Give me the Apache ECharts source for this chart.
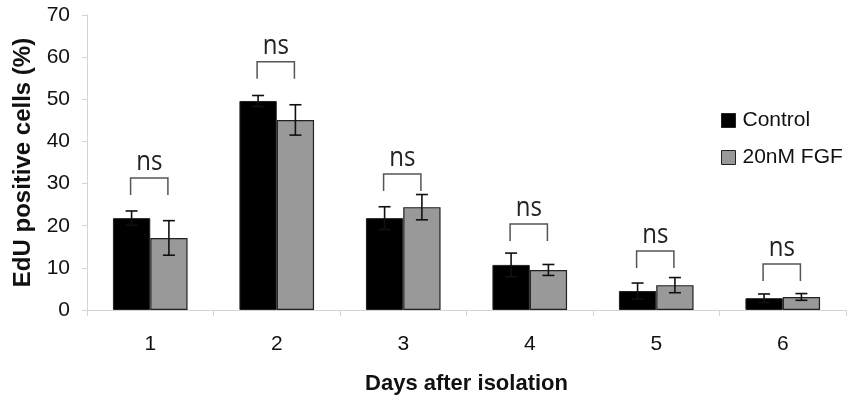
<!DOCTYPE html>
<html><head><meta charset="utf-8">
<script src="https://cdn.jsdelivr.net/npm/echarts@6/dist/echarts.min.js"></script>
<style>html,body{margin:0;padding:0;background:#fff}#c{width:850px;height:402px}</style>
</head><body><div id="c"></div>
<script>
const days = ['1','2','3','4','5','6'];
const controlVals = [21.8, 49.6, 21.8, 10.7, 4.5, 2.8];
const controlErr = [1.7, 1.3, 2.7, 2.8, 1.9, 1.0];
const fgfVals = [17.1, 45.1, 24.4, 9.5, 5.9, 3.1];
const fgfErr = [4.1, 3.6, 3.0, 1.3, 1.8, 0.8];
const bracketTop = [31.3, 58.9, 32.3, 20.4, 14.0, 10.9];
const sigLabels = ['ns','ns','ns','ns','ns','ns'];
const yTicks = [0,10,20,30,40,50,60,70];

const GAP = 0.41;
function barW(api){ return api.size([1,0])[0]*(1-GAP)/2; }

function errSeries(vals, errs, side){
  return {
    type:'custom', z:5, silent:true,
    data: vals.map((v,i)=>[i, v-errs[i], v+errs[i]]),
    renderItem(params, api){
      const w = barW(api);
      const off = side*w/2;
      const lo = api.coord([api.value(0), api.value(1)]);
      const hi = api.coord([api.value(0), api.value(2)]);
      const x = lo[0]+off, cap = 6;
      const st = {stroke:'#111', lineWidth:1.6};
      return {type:'group', children:[
        {type:'line', shape:{x1:x,y1:lo[1],x2:x,y2:hi[1]}, style:st},
        {type:'line', shape:{x1:x-cap,y1:lo[1],x2:x+cap,y2:lo[1]}, style:st},
        {type:'line', shape:{x1:x-cap,y1:hi[1],x2:x+cap,y2:hi[1]}, style:st}
      ]};
    }
  };
}

const FONT = 'Liberation Sans, Arial, sans-serif';
const option = {
  animation:false,
  backgroundColor:'#fff',
  grid:{left:87, right:4, top:15, bottom:92},
  legend:{
    data:['Control','20nM FGF'], orient:'vertical', left:716, top:105,
    icon:'rect', itemWidth:14, itemHeight:14, itemGap:16,
    itemStyle:{borderColor:'#222', borderWidth:1},
    textStyle:{fontFamily:FONT, fontSize:21, color:'#111', padding:[0,0,0,2]}
  },
  xAxis:{
    type:'category', data:days,
    name:'Days after isolation', nameLocation:'middle', nameGap:63,
    nameTextStyle:{fontFamily:FONT, fontSize:22, fontWeight:'bold', color:'#111'},
    axisLine:{lineStyle:{color:'#d4d4d4', width:1}},
    axisTick:{show:true, length:6, lineStyle:{color:'#d4d4d4'}},
    axisLabel:{fontFamily:FONT, fontSize:21, color:'#111', margin:24}
  },
  yAxis:{
    type:'value', min:0, max:70, interval:10,
    name:'EdU positive cells (%)', nameLocation:'middle', nameGap:52, nameRotate:90,
    nameTextStyle:{fontFamily:FONT, fontSize:24, fontWeight:'bold', color:'#111'},
    axisLine:{show:true, lineStyle:{color:'#d4d4d4', width:1}},
    axisTick:{show:true, length:5, lineStyle:{color:'#d4d4d4'}},
    splitLine:{show:false},
    axisLabel:{fontFamily:FONT, fontSize:21, color:'#111', margin:17,
      formatter:v=> yTicks.includes(v)? String(v):''}
  },
  series:[
    {name:'Control', type:'bar', data:controlVals, barGap:'0%', barCategoryGap:(GAP*100)+'%',
     itemStyle:{color:'#000', borderColor:'#222', borderWidth:1}},
    {name:'20nM FGF', type:'bar', data:fgfVals, barGap:'0%', barCategoryGap:(GAP*100)+'%',
     itemStyle:{color:'#999', borderColor:'#222', borderWidth:1.2}},
    errSeries(controlVals, controlErr, -1),
    errSeries(fgfVals, fgfErr, 1),
    {
      type:'custom', z:6, silent:true,
      data: bracketTop.map((v,i)=>[i, v]),
      renderItem(params, api){
        const w = barW(api);
        const top = api.coord([api.value(0), api.value(1)]);
        const cx = top[0];
        const x1 = cx - w/2 - 1, x2 = cx + w/2 - 1;
        const y = top[1], legY = y + 17;
        const st = {stroke:'#555', lineWidth:1.5, fill:null};
        return {type:'group', children:[
          {type:'polyline', shape:{points:[[x1,legY],[x1,y],[x2,y],[x2,legY]]}, style:st},
          {type:'text', x:cx-1, y:y-2, scaleY:1.15,
           style:{text:sigLabels[params.dataIndex], x:0, y:0, align:'center', verticalAlign:'bottom',
            font:'24px "Open Sans", "Noto Sans", sans-serif', fill:'#222'}}
        ]};
      }
    }
  ]
};
const chart = echarts.init(document.getElementById('c'), null, {renderer:'canvas'});
chart.setOption(option);
</script>
</body></html>
